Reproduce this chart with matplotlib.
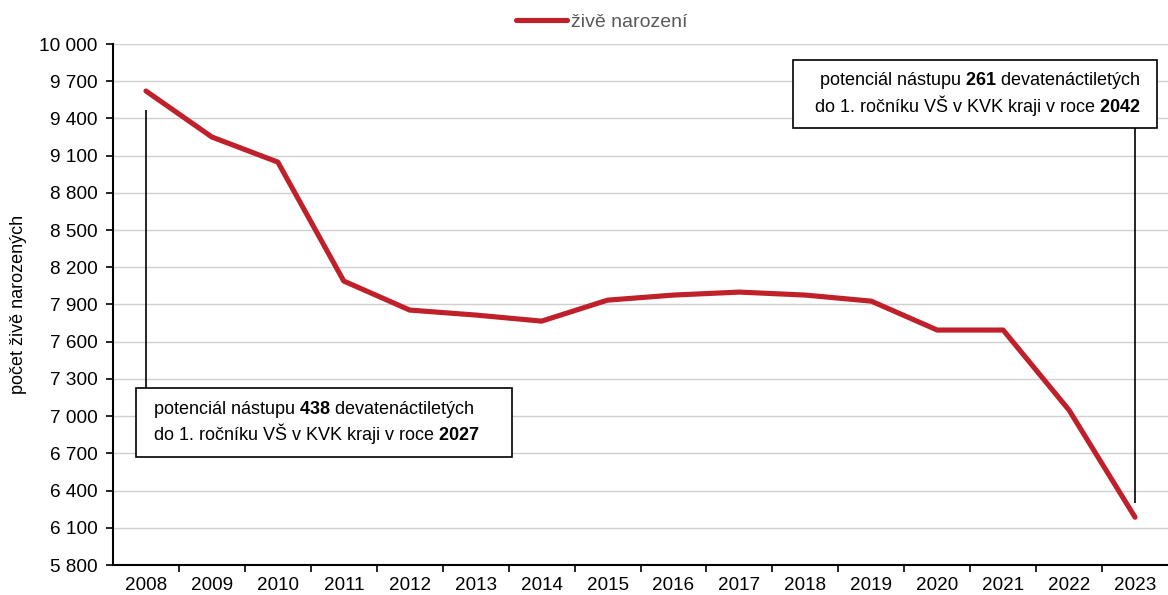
import matplotlib.pyplot as plt
import matplotlib.patches as patches
from matplotlib.ticker import FuncFormatter

plt.rcParams['font.family'] = ['Liberation Sans', 'DejaVu Sans']
plt.rcParams['mathtext.fontset'] = 'custom'
plt.rcParams['mathtext.rm'] = 'Liberation Sans'
plt.rcParams['mathtext.bf'] = 'Liberation Sans:bold'

# data
years = ['2008', '2009', '2010', '2011', '2012', '2013', '2014', '2015',
         '2016', '2017', '2018', '2019', '2020', '2021', '2022', '2023']
births = [9621, 9250, 9048, 8089, 7855, 7815, 7766, 7935,
          7976, 8000, 7976, 7927, 7694, 7694, 7048, 6185]
yticks = list(range(5800, 10001, 300))

red = '#C0202A'

fig = plt.figure(figsize=(11.68, 5.95), dpi=100)
ax = fig.add_axes([113/1168, 1-565/595, 1-113/1168, (565-44)/595])

x = list(range(len(years)))
ax.plot(x, births, color=red, lw=3.7, solid_capstyle='round',
        solid_joinstyle='round', label='živě narození', zorder=3)

ax.set_xlim(-0.5, len(years) - 0.5)
ax.set_ylim(5800, 10000)
ax.set_yticks(yticks)
ax.yaxis.set_major_formatter(FuncFormatter(lambda v, p: '{:,}'.format(int(v)).replace(',', ' ')))
ax.set_xticks(x)
ax.set_xticklabels(years)
ax.set_xticks([i + 0.5 for i in x[:-1]], minor=True)
ax.tick_params(axis='x', which='major', length=0, labelsize=13.6, pad=9)
ax.tick_params(axis='x', which='minor', length=5, width=1.2, direction='out')
ax.tick_params(axis='y', length=5, width=1.2, labelsize=13.7, pad=6)

ax.grid(axis='y', color='#d0d0d0', lw=1)
ax.set_axisbelow(True)
for s in ['top', 'right']:
    ax.spines[s].set_visible(False)
ax.spines['left'].set_linewidth(1.5)
ax.spines['bottom'].set_linewidth(1.5)

ax.set_ylabel('počet živě narozených', fontsize=13, labelpad=9)

leg = ax.legend(loc='upper center', bbox_to_anchor=(0.4635, 1.092), frameon=False,
                fontsize=14, handlelength=2.6, handletextpad=0.25)
for t in leg.get_texts():
    t.set_color('#595959')

# connector lines
ax.vlines(0, 7226, 9468, color='black', lw=1.2, zorder=2)
ax.vlines(15, 6298, 9323, color='black', lw=1.2, zorder=2)

# annotation boxes
ax.add_patch(patches.Rectangle((0.0218, 0.207), 0.356, 0.133, transform=ax.transAxes,
                               facecolor='white', edgecolor='black', lw=1.2, zorder=4))
ax.text(0.038, 0.2735,
        'potenciál nástupu $\\mathbf{438}$ devatenáctiletých\ndo 1. ročníku VŠ v KVK kraji v roce $\\mathbf{2027}$',
        transform=ax.transAxes, ha='left', va='center', fontsize=13,
        linespacing=1.08, zorder=5)

ax.add_patch(patches.Rectangle((0.6445, 0.839), 0.345, 0.13, transform=ax.transAxes,
                               facecolor='white', edgecolor='black', lw=1.2, zorder=4))
ax.text(0.974, 0.904,
        'potenciál nástupu $\\mathbf{261}$ devatenáctiletých\ndo 1. ročníku VŠ v KVK kraji v roce $\\mathbf{2042}$',
        transform=ax.transAxes, ha='right', va='center', multialignment='right',
        fontsize=13, linespacing=1.08, zorder=5)

fig.savefig('out.png', dpi=100)
